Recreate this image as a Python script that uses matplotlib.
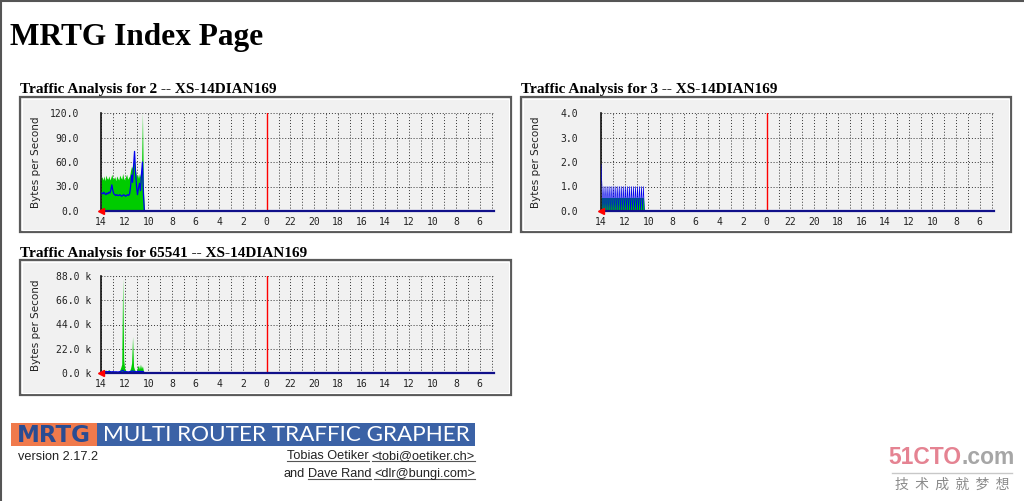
import numpy as np
import matplotlib.pyplot as plt
from matplotlib.patches import Rectangle
from matplotlib.lines import Line2D

W, H = 1024, 501

# x axis = hours back from "now" (14:00); label = clock hour
hour_ticks = [0, 2, 4, 6, 8, 10, 12, 14, 16, 18, 20, 22, 24, 26, 28, 30, 32]
hour_labels = ["14", "12", "10", "8", "6", "4", "2", "0", "22", "20",
               "18", "16", "14", "12", "10", "8", "6"]
midnight = 14
span_hours = 33.2
sample_min = 5

# interface 2 (bytes/s, 5 minute samples, newest first)
in_2 = [40, 42, 38, 43, 37, 44, 40, 39, 43, 38,
        41, 45, 39, 40, 42, 37, 43, 40, 38, 44,
        41, 39, 46, 40, 38, 42, 45, 39, 41, 43,
        50, 55, 52, 60, 62, 50, 42, 45, 40, 46,
        42, 48, 120, 30, 0]
out_2 = [22, 22, 21, 23, 21, 20, 22, 21, 23, 22,
         26, 32, 25, 21, 20, 19, 20, 19, 19, 20,
         19, 18, 19, 20, 19, 18, 19, 20, 19, 21,
         30, 44, 35, 55, 73, 48, 30, 20, 28, 34,
         25, 45, 60, 20, 0]

# interface 3
in_3 = [0.55, 0.55, 0.55, 0.55, 0.55, 0.55, 0.55, 0.55, 0.55, 0.55,
        0.55, 0.55, 0.55, 0.55, 0.55, 0.55, 0.55, 0.55, 0.55, 0.55,
        0.55, 0.55, 0.55, 0.55, 0.55, 0.55, 0.55, 0.55, 0.55, 0.55,
        0.55, 0.55, 0.55, 0.55, 0.55, 0.55, 0.55, 0.55, 0.55, 0.55,
        0.55, 0.55, 0.55, 0.55, 0]
out_3 = [1.9, 1.0, 0.0, 1.0, 0.0, 1.0, 0.0, 1.0, 0.0, 1.0,
         0.0, 1.0, 0.0, 1.0, 0.0, 1.0, 0.0, 1.0, 0.0, 1.0,
         0.0, 1.0, 0.0, 1.0, 0.0, 1.0, 0.0, 1.0, 0.0, 1.0,
         0.0, 1.0, 0.0, 1.0, 0.0, 1.0, 0.0, 1.0, 0.0, 1.0,
         0.0, 1.0, 0.0, 1.0, 0]

# interface 65541
in_65541 = [1500, 2500, 1800, 3000, 2200, 2600, 1900, 2400, 3100, 2000,
            1500, 1200, 1800, 1400, 1100, 1600, 1300, 1000, 1400, 2500,
            5000, 8000, 86000, 12000, 4000, 2500, 1800, 1500, 1200, 2000,
            4500, 9000, 33000, 6000, 3000, 2000, 1500, 5500, 7000, 3500,
            8000, 4000, 6500, 2000, 0]
out_65541 = [1200, 1300, 1100, 1400, 1200, 1300, 1100, 1200, 1400, 1200,
             1100, 1000, 1200, 1100, 1000, 1100, 1000, 900, 1000, 1200,
             1500, 1800, 2500, 1600, 1300, 1200, 1100, 1000, 1000, 1200,
             1400, 1600, 2000, 1500, 1300, 1200, 1100, 1400, 1500, 1300,
             1500, 1300, 1400, 1100, 0]

ylabels_2 = ["0.0", "30.0", "60.0", "90.0", "120.0"]
ylabels_3 = ["0.0", "1.0", "2.0", "3.0", "4.0"]
ylabels_65541 = ["0.0 k", "22.0 k", "44.0 k", "66.0 k", "88.0 k"]

MONO = "DejaVu Sans Mono"


def fy(y):
    return 1 - y / H


def panel(fig, box, area, heading, v_in, v_out, ymax, ylabels, ypad, label_xy,
          out_lw=0.9):
    x0, y0, x1, y1 = box
    fig.add_artist(Rectangle((x0 / W, fy(y1)), (x1 - x0) / W, (y1 - y0) / H,
                             transform=fig.transFigure, fc="#f1f1f1",
                             ec="#5a5a5a", lw=1.6, zorder=-2))
    fig.add_artist(Rectangle(((x0 + 2) / W, fy(y1 - 2)), (x1 - x0 - 4) / W,
                             (y1 - y0 - 4) / H, transform=fig.transFigure,
                             fc="none", ec="white", lw=0.8, zorder=-1))
    fig.text(x0 / W, fy(y0 - 3.5), heading, ha="left", va="baseline",
             family="Liberation Serif", weight="bold", fontsize=11)
    fig.text(label_xy[0] / W, fy(label_xy[1]), "Bytes per Second",
             rotation=90, ha="center", va="center", fontsize=7.5,
             color="#222222")

    a0, b0, a1, b1 = area
    ax = fig.add_axes([a0 / W, fy(b1), (a1 - a0) / W, (b1 - b0) / H])
    ax.set_facecolor("none")
    t = np.arange(len(v_in)) * sample_min / 60
    ax.fill_between(t, v_in, color="#00cc00", lw=0, zorder=2)
    ax.plot(t, v_out, color="#0000ee", lw=out_lw, zorder=3)

    ax.set_xlim(0, span_hours)
    ax.set_ylim(0, ymax)
    ax.set_xticks(hour_ticks, hour_labels)
    ax.set_xticks(range(1, 34), minor=True)
    ax.set_yticks(np.linspace(0, ymax, 5), ylabels)
    ax.grid(which="both", axis="x", color="#333333", ls=(0, (1, 2)), lw=0.7)
    ax.grid(which="major", axis="y", color="#333333", ls=(0, (1, 2)), lw=0.7)
    ax.tick_params(which="both", length=0)
    ax.tick_params(axis="x", pad=4.5)
    ax.tick_params(axis="y", pad=ypad)
    for lab in ax.get_xticklabels() + ax.get_yticklabels():
        lab.set_family(MONO)
        lab.set_fontsize(7)
        lab.set_color("#222222")
    for s in ["top", "right", "bottom"]:
        ax.spines[s].set_visible(False)
    ax.spines["left"].set_color("#111111")
    ax.spines["left"].set_linewidth(1.2)
    ax.axvline(midnight, color="#ff0000", lw=1.0, zorder=3.5)
    ax.axhline(0, color="#10108a", lw=1.6, zorder=4, clip_on=False)
    ax.plot([0], [0], marker="<", color="#ff0000", ms=4.5,
            transform=ax.transAxes, clip_on=False, zorder=5)
    return ax


def chain_right(fig, pieces, x_right, y, gap=3, **kw):
    r = fig.canvas.get_renderer()
    x = x_right
    for txt, underline in reversed(pieces):
        t = fig.text(x / W, fy(y), txt, ha="right", va="baseline", **kw)
        bb = t.get_window_extent(renderer=r)
        if underline:
            fig.add_artist(Line2D([bb.x0 / W, bb.x1 / W],
                                  [(H - y - 2) / H, (H - y - 2) / H],
                                  color="#555555", lw=0.8))
        x = bb.x0 - gap


def main():
    fig = plt.figure(figsize=(W / 100, H / 100), dpi=100)
    fig.patch.set_facecolor("white")

    # page frame
    fig.add_artist(Line2D([0, 1], [fy(0.8), fy(0.8)], color="#555555", lw=1.5))
    fig.add_artist(Line2D([0.8 / W, 0.8 / W], [0, 1], color="#555555", lw=1.5))

    fig.text(10 / W, fy(45), "MRTG Index Page", ha="left", va="baseline",
             family="Liberation Serif", weight="bold", fontsize=22.6)

    panel(fig, (20, 97, 511, 232), (101, 113, 494, 211),
          "Traffic Analysis for 2 -- XS-14DIAN169", in_2, out_2,
          120, ylabels_2, 15.8, (36, 162))
    panel(fig, (521, 97, 1011, 232), (601, 113, 994, 211),
          "Traffic Analysis for 3 -- XS-14DIAN169", in_3, out_3,
          4, ylabels_3, 16.5, (536, 162), out_lw=0.45)
    panel(fig, (20, 260, 511, 395), (101, 276, 494, 373),
          "Traffic Analysis for 65541 -- XS-14DIAN169", in_65541, out_65541,
          88000, ylabels_65541, 7.2, (36, 325))

    # MRTG logo banner
    fig.add_artist(Rectangle((11 / W, fy(446)), 86 / W, 23 / H,
                             transform=fig.transFigure, fc="#f07a4c", ec="none"))
    fig.add_artist(Rectangle((97 / W, fy(446)), 378 / W, 23 / H,
                             transform=fig.transFigure, fc="#3b62a6", ec="none"))
    fig.text(54 / W, fy(435), "MRTG", ha="center", va="center",
             family="DejaVu Sans", weight="bold", fontsize=16.5, color="#2a4c92")
    fig.text(286 / W, fy(435), "MULTI ROUTER TRAFFIC GRAPHER", ha="center",
             va="center", family="Lato", weight="normal", fontsize=16.2,
             color="white")

    fig.text(18 / W, fy(460), "version 2.17.2", ha="left", va="baseline",
             family="Liberation Sans", fontsize=9.2, color="#222222")
    chain_right(fig, [("Tobias Oetiker", True), ("<tobi@oetiker.ch>", True)],
                475, 459, family="Liberation Sans", fontsize=9.2, color="#222222")
    chain_right(fig, [("and", False), ("Dave Rand", True), ("<dlr@bungi.com>", True)],
                475, 477, family="Liberation Sans", fontsize=9.2, color="#222222")

    # watermark
    t = fig.text(888 / W, fy(464), "51CTO", ha="left", va="baseline",
                 family="Liberation Sans", weight="bold", fontsize=16.5,
                 color="#e58392")
    bb = t.get_window_extent(renderer=fig.canvas.get_renderer())
    fig.text(bb.x1 / W, fy(464), ".com", ha="left", va="baseline",
             family="Liberation Sans", weight="bold", fontsize=16.5,
             color="#a6a6a6")
    fig.add_artist(Line2D([892 / W, 1012 / W], [fy(472.5), fy(472.5)],
                          color="#c8c8c8", lw=1))
    fig.text(952 / W, fy(485), "技  术  成  就  梦  想", ha="center", va="center",
             family=["Noto Sans CJK SC", "DejaVu Sans"], fontsize=10,
             color="#8a8a8a")

    fig.savefig("out.png", dpi=100)


if __name__ == "__main__":
    main()
